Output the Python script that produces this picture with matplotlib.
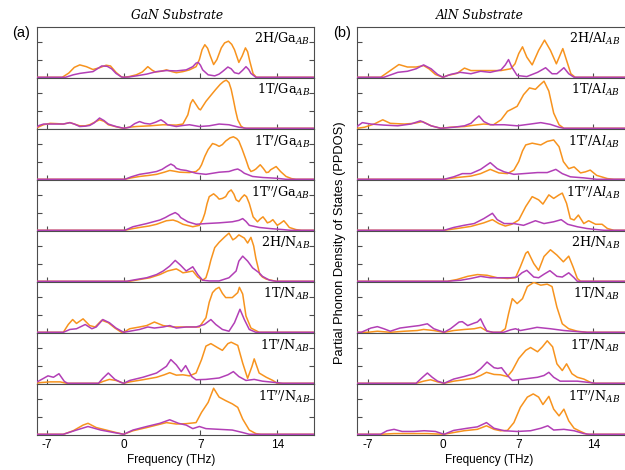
import matplotlib
matplotlib.use("Agg")
import matplotlib.pyplot as plt

plt.rcParams["mathtext.fontset"] = "dejavuserif"

ORANGE = "#F7931E"
PURPLE = "#B23FB6"
FRAME = "#4d4d4d"

# ---------------- GaN substrate: (frequency THz, PPDOS) ----------------
gan_2h_ga_or = [(-8,0),(-5.6,0),(-5.0,0.12),(-4.5,0.28),(-4.0,0.35),(-3.4,0.3),(-2.8,0.22),(-2.2,0.27),(-1.6,0.34),(-1.2,0.32),(-0.7,0.14),(-0.2,0.01),(0,0),(0.5,0.02),(1.15,0.07),(1.7,0.15),(2.2,0.30),(2.6,0.2),(2.9,0.15),(3.4,0.17),(3.9,0.21),(4.4,0.16),(4.8,0.13),(5.4,0.16),(6.0,0.21),(6.6,0.3),(6.9,0.5),(7.15,0.78),(7.4,0.92),(7.65,0.82),(7.9,0.6),(8.2,0.36),(8.5,0.5),(8.9,0.83),(9.2,0.97),(9.55,1.02),(9.85,0.93),(10.1,0.78),(10.5,0.42),(10.8,0.6),(11.1,0.83),(11.3,0.72),(11.5,0.45),(11.8,0.1),(12.1,0.0),(17.5,0)]
gan_2h_ga_pu = [(-8,0),(-5.3,0),(-4.6,0.07),(-4.0,0.11),(-3.3,0.14),(-2.8,0.16),(-2.4,0.24),(-2.0,0.32),(-1.5,0.31),(-1.1,0.24),(-0.7,0.11),(-0.2,0.01),(0,0),(0.5,0.01),(1.15,0.04),(2.1,0.09),(3.0,0.16),(3.9,0.19),(4.8,0.18),(5.7,0.21),(6.3,0.30),(6.6,0.40),(6.8,0.42),(7.0,0.34),(7.2,0.21),(7.7,0.07),(8.3,0.04),(8.7,0.09),(9.0,0.16),(9.5,0.29),(9.8,0.24),(10.1,0.13),(10.5,0.1),(10.85,0.2),(11.15,0.3),(11.4,0.22),(11.6,0.11),(12.05,0.0),(17.5,0)]

gan_1t_ga_or = [(-8,0.0),(-7.6,0.06),(-7.3,0.1),(-6.7,0.14),(-6.0,0.13),(-5.5,0.12),(-4.9,0.16),(-4.5,0.12),(-4.0,0.07),(-3.5,0.07),(-3.1,0.1),(-2.6,0.18),(-2.2,0.24),(-1.8,0.2),(-1.4,0.1),(-0.9,0.06),(-0.5,0.03),(0,0),(0.5,0.03),(1.15,0.05),(2.4,0.07),(3.6,0.1),(4.8,0.09),(5.4,0.12),(5.85,0.38),(6.1,0.7),(6.3,0.81),(6.6,0.67),(6.85,0.55),(7.0,0.52),(7.5,0.76),(8.0,0.95),(8.4,1.10),(8.8,1.24),(9.1,1.32),(9.35,1.36),(9.6,1.29),(9.8,1.1),(10.0,0.81),(10.2,0.5),(10.4,0.24),(10.7,0.06),(11.0,0.0),(17.5,0)]
gan_1t_ga_pu = [(-8,0.02),(-7.7,0.08),(-7.3,0.12),(-6.4,0.12),(-5.5,0.12),(-4.9,0.16),(-4.5,0.12),(-4.0,0.05),(-3.5,0.06),(-3.1,0.08),(-2.7,0.15),(-2.2,0.29),(-1.8,0.22),(-1.4,0.12),(-0.7,0.05),(0,0),(0.55,0.03),(1.0,0.13),(1.45,0.19),(1.9,0.14),(2.4,0.12),(2.9,0.17),(3.4,0.24),(3.7,0.18),(4.0,0.1),(4.8,0.05),(5.4,0.08),(6.0,0.1),(6.9,0.05),(7.8,0.07),(8.7,0.12),(9.6,0.1),(10.5,0.03),(11.2,0.0),(17.5,0)]

gan_1tp_ga_or = [(-8,0),(0.1,0),(0.7,0.04),(1.45,0.08),(2.3,0.11),(3.0,0.14),(3.7,0.2),(4.2,0.25),(4.6,0.23),(5.1,0.2),(6.0,0.19),(6.6,0.22),(6.9,0.3),(7.1,0.41),(7.4,0.65),(7.7,0.84),(8.1,1.01),(8.4,0.98),(8.7,0.93),(9.0,0.98),(9.3,1.08),(9.7,1.17),(10.0,1.2),(10.3,1.15),(10.5,1.08),(10.8,0.85),(11.15,0.55),(11.4,0.32),(11.6,0.22),(11.85,0.25),(12.05,0.29),(12.45,0.41),(12.75,0.3),(13.0,0.19),(13.2,0.2),(13.4,0.27),(13.9,0.36),(14.3,0.22),(14.8,0.08),(15.3,0.02),(15.7,0.0),(17.5,0)]
gan_1tp_ga_pu = [(-8,0),(0.1,0),(0.7,0.07),(1.45,0.14),(2.3,0.18),(3.0,0.22),(3.5,0.28),(3.9,0.36),(4.3,0.43),(4.6,0.38),(4.8,0.31),(5.2,0.27),(5.7,0.25),(6.6,0.17),(7.5,0.14),(8.7,0.2),(9.6,0.22),(10.1,0.27),(10.4,0.29),(10.7,0.24),(11.0,0.17),(11.75,0.08),(12.7,0.05),(13.9,0.03),(14.8,0.0),(17.5,0)]

gan_1tpp_ga_or = [(-8,0),(0.1,0),(0.7,0.04),(1.45,0.08),(2.3,0.12),(3.0,0.17),(3.9,0.27),(4.5,0.29),(4.9,0.25),(5.4,0.17),(6.3,0.1),(6.9,0.14),(7.2,0.3),(7.4,0.48),(7.6,0.75),(7.8,0.95),(8.2,1.03),(8.5,0.95),(8.7,0.88),(9.0,0.9),(9.3,0.95),(9.55,1.08),(9.8,1.14),(10.05,1.02),(10.25,0.86),(10.5,0.81),(10.75,0.92),(11.0,1.0),(11.2,0.95),(11.45,0.76),(11.8,0.38),(12.2,0.24),(12.45,0.32),(12.7,0.38),(12.9,0.3),(13.1,0.21),(13.35,0.24),(13.6,0.3),(13.8,0.22),(14.0,0.14),(14.3,0.2),(14.6,0.27),(14.85,0.18),(15.1,0.08),(15.7,0.02),(16.2,0),(17.5,0)]
gan_1tpp_ga_pu = [(-8,0),(0.1,0),(0.85,0.1),(2.1,0.19),(3.3,0.29),(3.8,0.36),(4.2,0.43),(4.7,0.5),(5.0,0.44),(5.2,0.36),(5.85,0.24),(6.6,0.17),(7.5,0.19),(8.7,0.21),(9.9,0.24),(10.5,0.28),(10.85,0.33),(11.15,0.25),(11.45,0.14),(12.35,0.08),(13.3,0.05),(14.5,0.02),(15.2,0),(17.5,0)]

gan_2h_n_or = [(-8,0),(0.55,0),(1.45,0.05),(2.4,0.1),(3.3,0.19),(4.0,0.29),(4.8,0.35),(5.1,0.3),(5.4,0.24),(5.8,0.26),(6.3,0.29),(6.75,0.12),(7.2,0.03),(7.5,0.1),(7.75,0.35),(7.95,0.6),(8.3,0.95),(8.7,1.1),(9.2,1.25),(9.6,1.36),(9.95,1.17),(10.2,1.22),(10.5,1.31),(11.0,1.22),(11.3,1.08),(11.6,1.24),(11.85,1.0),(12.05,0.65),(12.4,0.2),(12.65,0.12),(13.0,0.06),(13.9,0.0),(17.5,0)]
gan_2h_n_pu = [(-8,0),(0.25,0),(1.15,0.05),(2.1,0.1),(3.0,0.19),(3.6,0.29),(4.2,0.43),(4.7,0.59),(5.2,0.45),(5.7,0.29),(6.0,0.35),(6.3,0.41),(6.75,0.19),(7.2,0.03),(7.8,0.01),(8.7,0.01),(9.6,0.1),(10.25,0.29),(10.5,0.57),(10.85,0.71),(11.3,0.57),(11.75,0.38),(12.35,0.24),(12.65,0.14),(13.3,0.03),(13.9,0.0),(17.5,0)]

gan_1t_n_or = [(-8,0),(-5.5,0),(-5.05,0.22),(-4.65,0.36),(-4.3,0.25),(-3.7,0.38),(-3.1,0.19),(-2.6,0.15),(-2.0,0.34),(-1.4,0.27),(-0.8,0.12),(-0.2,0.0),(0.1,0.02),(0.55,0.1),(1.45,0.15),(2.1,0.19),(2.8,0.29),(3.6,0.19),(4.5,0.15),(6.9,0.15),(7.5,0.41),(7.8,0.85),(8.1,1.12),(8.4,1.22),(8.7,1.27),(9.0,1.1),(9.3,0.98),(9.9,0.98),(10.4,1.12),(10.55,1.27),(10.85,1.08),(11.15,0.46),(11.6,0.12),(12.35,0.0),(17.5,0)]
gan_1t_n_pu = [(-8,0),(-5.5,0),(-4.9,0.08),(-4.3,0.1),(-3.5,0.22),(-2.9,0.1),(-2.5,0.15),(-1.9,0.36),(-1.3,0.27),(-0.7,0.12),(0,0),(0.55,0.03),(1.45,0.08),(2.2,0.15),(2.8,0.12),(3.6,0.15),(4.2,0.19),(4.8,0.12),(5.7,0.15),(6.6,0.15),(7.35,0.22),(7.95,0.36),(8.4,0.22),(9.0,0.08),(9.6,0.03),(10.1,0.27),(10.6,0.65),(11.0,0.36),(11.45,0.08),(12.05,0.0),(17.5,0)]

gan_1tp_n_or = [(-8,0),(-7.6,0.02),(-6.7,0.04),(-5.8,0.04),(-5.2,0.0),(-2.3,0),(-1.9,0.05),(-1.3,0.11),(-0.7,0.08),(0,0),(0.55,0.04),(1.75,0.1),(3.0,0.17),(3.7,0.24),(4.2,0.3),(4.8,0.23),(5.4,0.24),(6.0,0.21),(6.6,0.29),(7.1,0.67),(7.5,1.05),(7.95,1.12),(8.6,1.0),(9.0,0.93),(9.5,1.12),(9.8,1.16),(10.4,1.07),(10.85,0.57),(11.3,0.14),(11.7,0.48),(11.9,0.69),(12.35,0.29),(13.0,0.17),(13.6,0.08),(14.0,0.0),(17.5,0)]
gan_1tp_n_pu = [(-8,0.02),(-7.3,0.14),(-6.9,0.21),(-6.4,0.17),(-5.9,0.27),(-5.4,0.05),(-5.1,0),(-2.3,0),(-1.9,0.14),(-1.4,0.29),(-0.8,0.11),(-0.2,0.02),(0,0),(0.55,0.08),(1.75,0.17),(3.0,0.29),(3.9,0.48),(4.3,0.67),(4.8,0.52),(5.25,0.33),(5.65,0.5),(6.2,0.19),(6.6,0.1),(7.5,0.11),(8.7,0.15),(9.5,0.24),(10.0,0.33),(10.5,0.19),(11.15,0.08),(11.9,0.11),(12.65,0.06),(13.9,0.02),(14.5,0),(17.5,0)]

gan_1tpp_n_or = [(-8,0),(-5.5,0),(-4.6,0.1),(-3.7,0.26),(-3.25,0.31),(-2.5,0.19),(-1.6,0.12),(-0.7,0.05),(0,0),(0.85,0.1),(2.1,0.19),(3.0,0.26),(3.9,0.33),(4.8,0.29),(5.7,0.3),(6.6,0.33),(7.1,0.62),(7.7,0.9),(8.2,1.3),(8.7,1.05),(9.3,0.95),(9.9,0.86),(10.4,0.76),(10.85,0.43),(11.45,0.12),(12.05,0.02),(12.5,0),(17.5,0)]
gan_1tpp_n_pu = [(-8,0),(-5.5,0),(-4.3,0.12),(-3.25,0.22),(-2.1,0.12),(-0.9,0.05),(0,0),(0.85,0.12),(2.1,0.22),(3.3,0.31),(4.2,0.41),(5.0,0.31),(5.7,0.26),(6.3,0.16),(6.9,0.22),(7.5,0.16),(8.7,0.14),(9.9,0.12),(10.85,0.05),(11.45,0),(17.5,0)]

# ---------------- AlN substrate ----------------
aln_2h_al_or = [(-8,0),(-5.8,0),(-4.9,0.19),(-4.1,0.36),(-3.3,0.29),(-2.5,0.29),(-1.8,0.33),(-1.3,0.24),(-0.7,0.08),(0,0),(0.4,0.05),(1.3,0.11),(2.0,0.26),(2.6,0.19),(3.5,0.19),(5.4,0.19),(6.3,0.24),(6.7,0.38),(7.05,0.67),(7.4,0.86),(7.8,0.57),(8.3,0.35),(8.9,0.76),(9.45,1.05),(10.0,0.76),(10.55,0.38),(11.15,0.81),(11.55,0.43),(11.9,0.1),(12.3,0),(17.5,0)]
aln_2h_al_pu = [(-8,0),(-5.5,0),(-4.2,0.14),(-3.3,0.17),(-2.5,0.24),(-1.8,0.35),(-1.1,0.24),(-0.5,0.08),(0,0),(0.7,0.08),(1.6,0.14),(2.6,0.1),(3.5,0.17),(4.4,0.14),(5.4,0.21),(5.8,0.35),(6.1,0.5),(6.4,0.29),(6.9,0.05),(7.8,0.02),(8.8,0.14),(9.55,0.27),(10.15,0.1),(10.6,0.1),(11.25,0.27),(11.7,0.1),(12.2,0),(17.5,0)]

aln_1t_al_or = [(-8,0),(-7.3,0.03),(-6.4,0.12),(-5.6,0.24),(-4.9,0.14),(-3.6,0.12),(-2.7,0.14),(-1.9,0.19),(-1.1,0.07),(-0.2,0),(0.7,0.03),(2.0,0.05),(3.2,0.1),(3.8,0.12),(4.7,0.1),(5.4,0.24),(6.0,0.48),(6.4,0.54),(6.9,0.62),(7.5,0.95),(8.05,1.14),(8.6,1.1),(9.0,1.22),(9.4,1.33),(9.85,1.05),(10.3,0.43),(10.8,0.1),(11.25,0),(17.5,0)]
aln_1t_al_pu = [(-8,0.05),(-7.5,0.16),(-6.7,0.12),(-5.5,0.09),(-4.2,0.07),(-3.0,0.12),(-2.1,0.21),(-1.1,0.07),(-0.2,0),(1.0,0.03),(2.0,0.07),(2.6,0.14),(3.0,0.26),(3.35,0.35),(3.8,0.19),(4.4,0.1),(5.7,0.1),(6.9,0.07),(8.15,0.12),(9.1,0.16),(10.0,0.11),(10.8,0.03),(11.25,0),(17.5,0)]

aln_1tp_al_or = [(-8,0),(0.1,0),(1.3,0.05),(2.6,0.09),(3.5,0.16),(4.4,0.28),(5.2,0.18),(6.0,0.16),(6.6,0.26),(7.05,0.5),(7.4,0.8),(7.7,0.97),(8.3,1.02),(9.1,0.97),(9.7,1.07),(10.3,1.11),(10.8,0.92),(11.2,0.5),(11.7,0.3),(12.2,0.35),(12.8,0.18),(13.25,0.21),(13.7,0.26),(14.3,0.11),(15.3,0.02),(15.9,0),(17.5,0)]
aln_1tp_al_pu = [(-8,0),(0.1,0),(1.0,0.07),(1.8,0.16),(2.6,0.16),(3.5,0.28),(4.4,0.47),(5.05,0.3),(5.7,0.21),(6.6,0.14),(7.5,0.16),(8.8,0.19),(9.7,0.19),(10.5,0.28),(11.1,0.16),(11.85,0.07),(13.1,0.04),(14.3,0),(17.5,0)]

aln_1tpp_al_or = [(-8,0),(0.1,0),(1.3,0.05),(2.6,0.11),(3.8,0.21),(4.6,0.3),(5.2,0.19),(5.8,0.12),(6.4,0.17),(7.05,0.29),(7.7,0.67),(8.3,0.95),(8.9,0.86),(9.3,0.74),(9.85,1.0),(10.3,0.9),(10.8,1.0),(11.1,1.05),(11.5,0.76),(11.85,0.33),(12.2,0.29),(12.6,0.43),(13.1,0.19),(13.55,0.27),(14.2,0.17),(14.8,0.17),(15.3,0.05),(15.9,0),(17.5,0)]
aln_1tpp_al_pu = [(-8,0),(0.1,0),(1.0,0.08),(1.95,0.14),(2.9,0.19),(3.8,0.33),(4.6,0.48),(5.05,0.3),(5.7,0.19),(6.6,0.19),(7.5,0.14),(8.6,0.27),(9.4,0.19),(10.3,0.24),(11.0,0.3),(11.6,0.17),(12.5,0.1),(13.4,0.05),(14.3,0.02),(15.0,0),(17.5,0)]

aln_2h_n_or = [(-8,0),(0.4,0),(1.3,0.05),(2.3,0.14),(3.2,0.19),(4.1,0.17),(5.05,0.1),(6.0,0.08),(6.75,0.1),(7.2,0.41),(7.7,0.79),(7.9,0.84),(8.45,0.5),(8.9,0.31),(9.4,0.7),(10.0,0.89),(10.6,0.74),(11.2,0.55),(11.7,0.71),(12.1,0.41),(12.5,0.08),(12.8,0),(17.5,0)]
aln_2h_n_pu = [(-8,0),(0.4,0),(1.65,0.03),(2.6,0.08),(3.5,0.14),(4.4,0.1),(6.3,0.1),(6.9,0.12),(7.35,0.24),(7.8,0.31),(8.45,0.12),(8.9,0.1),(9.4,0.2),(9.95,0.3),(10.6,0.14),(11.1,0.12),(11.7,0.24),(12.2,0.1),(12.5,0),(17.5,0)]

aln_1t_n_or = [(-8,0),(-7.0,0),(-6.1,0.03),(-4.9,0.0),(-3.6,0.03),(-2.4,0.05),(-1.8,0.08),(-0.85,0.05),(0.1,0),(1.0,0.05),(2.0,0.08),(2.9,0.1),(3.5,0.14),(4.0,0.05),(4.6,0),(5.35,0),(5.8,0.1),(6.1,0.52),(6.45,0.95),(6.9,0.81),(7.4,0.95),(7.85,1.29),(8.45,1.41),(9.1,1.33),(9.7,1.36),(10.15,1.29),(10.6,0.71),(11.1,0.24),(11.7,0.1),(12.5,0.03),(13.4,0),(17.5,0)]
aln_1t_n_pu = [(-8,0),(-7.6,0),(-6.7,0.12),(-6.1,0.16),(-5.5,0.1),(-4.9,0.03),(-4.0,0.12),(-3.0,0.16),(-2.2,0.19),(-1.45,0.24),(-0.85,0.1),(0.1,0),(0.7,0.1),(1.5,0.29),(1.8,0.3),(2.3,0.19),(2.9,0.26),(3.2,0.29),(3.5,0.38),(3.8,0.19),(4.1,0.03),(4.7,0),(5.65,0),(6.3,0.07),(6.75,0.1),(7.2,0.05),(8.1,0.1),(8.75,0.14),(10.0,0.1),(11.25,0.05),(12.5,0.02),(13.4,0),(17.5,0)]

aln_1tp_n_or = [(-8,0),(-2.5,0),(-1.8,0.06),(-1.15,0.1),(-0.5,0.04),(0.1,0),(1.0,0.06),(1.95,0.1),(2.9,0.15),(3.5,0.22),(4.05,0.31),(4.75,0.25),(5.35,0.24),(6.0,0.19),(6.45,0.36),(7.05,0.7),(7.7,0.93),(8.15,1.01),(8.8,0.89),(9.25,1.03),(9.7,1.2),(10.2,1.03),(10.6,0.55),(11.1,0.36),(11.5,0.55),(12.0,0.27),(12.5,0.17),(13.1,0.12),(13.7,0.03),(14.0,0),(17.5,0)]
aln_1tp_n_pu = [(-8,0),(-2.5,0),(-1.9,0.17),(-1.45,0.29),(-1.0,0.17),(-0.5,0.06),(0.1,0),(1.0,0.12),(1.95,0.19),(2.9,0.27),(3.5,0.41),(4.1,0.6),(4.75,0.44),(5.1,0.42),(5.45,0.44),(6.0,0.22),(6.45,0.08),(7.5,0.12),(8.8,0.17),(9.4,0.22),(9.85,0.31),(10.3,0.17),(10.9,0.06),(12.5,0.06),(13.7,0.02),(14.2,0),(17.5,0)]

aln_1tpp_n_or = [(-8,0),(-5.8,0),(-4.55,0.02),(-3.0,0.02),(-1.45,0.02),(0.1,0),(1.0,0.05),(1.95,0.1),(3.2,0.14),(4.05,0.24),(4.75,0.14),(5.35,0.1),(6.0,0.11),(6.6,0.33),(7.2,0.76),(7.85,1.05),(8.4,1.14),(8.9,1.05),(9.3,0.84),(9.85,1.07),(10.3,0.71),(10.8,0.52),(11.25,0.71),(11.7,0.38),(12.2,0.17),(12.8,0.08),(13.4,0),(17.5,0)]
aln_1tpp_n_pu = [(-8,0),(-5.8,0),(-5.2,0.1),(-4.55,0.14),(-3.8,0.08),(-2.7,0.08),(-1.75,0.1),(-0.7,0.08),(0.1,0),(1.0,0.11),(2.25,0.17),(3.2,0.21),(4.05,0.33),(4.75,0.17),(5.7,0.1),(6.9,0.08),(8.15,0.1),(9.1,0.17),(9.75,0.24),(10.3,0.12),(11.25,0.14),(12.2,0.1),(13.1,0.02),(13.6,0),(17.5,0)]

gan_labels = [r"2H/Ga$_{AB}$", r"1T/Ga$_{AB}$", r"1T$'$/Ga$_{AB}$", r"1T$''$/Ga$_{AB}$",
              r"2H/N$_{AB}$", r"1T/N$_{AB}$", r"1T$'$/N$_{AB}$", r"1T$''$/N$_{AB}$"]
aln_labels = [r"2H/A$l_{AB}$", r"1T/A$l_{AB}$", r"1T$'$/A$l_{AB}$", r"1T$''$/A$l_{AB}$",
              r"2H/N$_{AB}$", r"1T/N$_{AB}$", r"1T$'$/N$_{AB}$", r"1T$''$/N$_{AB}$"]

gan_curves = [(gan_2h_ga_or, gan_2h_ga_pu), (gan_1t_ga_or, gan_1t_ga_pu),
              (gan_1tp_ga_or, gan_1tp_ga_pu), (gan_1tpp_ga_or, gan_1tpp_ga_pu),
              (gan_2h_n_or, gan_2h_n_pu), (gan_1t_n_or, gan_1t_n_pu),
              (gan_1tp_n_or, gan_1tp_n_pu), (gan_1tpp_n_or, gan_1tpp_n_pu)]
aln_curves = [(aln_2h_al_or, aln_2h_al_pu), (aln_1t_al_or, aln_1t_al_pu),
              (aln_1tp_al_or, aln_1tp_al_pu), (aln_1tpp_al_or, aln_1tpp_al_pu),
              (aln_2h_n_or, aln_2h_n_pu), (aln_1t_n_or, aln_1t_n_pu),
              (aln_1tp_n_or, aln_1tp_n_pu), (aln_1tpp_n_or, aln_1tpp_n_pu)]

freq_ticks = [-7, 0, 7, 14]
freq_ticklabels = ["-7", "0", "7", "14"]

W, H = 625, 470
fig = plt.figure(figsize=(W / 100, H / 100), dpi=100)

top_px, bot_px = 27, 435
n = 8
ph = (bot_px - top_px) / n

columns = [
    dict(x0=37, x1=314, xlim=(-7.9, 17.35), curves=gan_curves, labels=gan_labels, lab_x=310),
    dict(x0=357.5, x1=630, xlim=(-7.95, 17.4), curves=aln_curves, labels=aln_labels, lab_x=620),
]

for col in columns:
    for i in range(n):
        y_top = top_px + i * ph
        rect = [col["x0"] / W, 1 - (y_top + ph) / H, (col["x1"] - col["x0"]) / W, ph / H]
        ax = fig.add_axes(rect)
        orange, purple = col["curves"][i]
        fo, vo = zip(*orange)
        fp, vp = zip(*purple)
        ax.plot(fo, vo, color=ORANGE, lw=1.1, zorder=3, solid_joinstyle="round")
        ax.plot(fp, vp, color=PURPLE, lw=1.1, zorder=4, solid_joinstyle="round")
        ax.set_xlim(*col["xlim"])
        ax.set_ylim(-0.02, 1.42)
        ax.set_xticks(freq_ticks)
        ax.set_yticks([0.5, 1.0])
        ax.set_yticklabels([])
        ax.tick_params(axis="both", direction="in", length=3.5, width=0.8, color=FRAME,
                       left=True, right=True, top=False, bottom=True)
        if i == n - 1:
            ax.set_xticklabels(freq_ticklabels, fontsize=8.5, family="Liberation Sans")
            ax.tick_params(axis="x", pad=3)
        else:
            ax.set_xticklabels([])
        for s in ax.spines.values():
            s.set_color(FRAME)
            s.set_linewidth(0.8)
        lx = (col["lab_x"] - col["x0"]) / (col["x1"] - col["x0"])
        ax.text(lx, 0.76, col["labels"][i], transform=ax.transAxes, ha="right", va="center",
                fontsize=9.2, family="DejaVu Serif")

fig.text(0.283, 0.966, "GaN Substrate", ha="center", va="center", fontsize=8.8,
         family="DejaVu Serif", style="italic")
fig.text(0.768, 0.966, "AlN Substrate", ha="center", va="center", fontsize=8.8,
         family="DejaVu Serif", style="italic")
fig.text(21 / W, 1 - 33 / H, "(a)", ha="center", va="center", fontsize=10.5, family="Liberation Sans")
fig.text(342 / W, 1 - 33 / H, "(b)", ha="center", va="center", fontsize=10.5, family="Liberation Sans")
fig.text(340 / W, 1 - 243 / H, "Partial Phonon Density of States (PPDOS)", rotation=90,
         ha="center", va="center", fontsize=9.3, family="Liberation Sans")
fig.text(171 / W, 1 - 460 / H, "Frequency (THz)", ha="center", va="center", fontsize=8.5,
         family="Liberation Sans")
fig.text(489 / W, 1 - 460 / H, "Frequency (THz)", ha="center", va="center", fontsize=8.5,
         family="Liberation Sans")

fig.savefig("out.png", dpi=100)
